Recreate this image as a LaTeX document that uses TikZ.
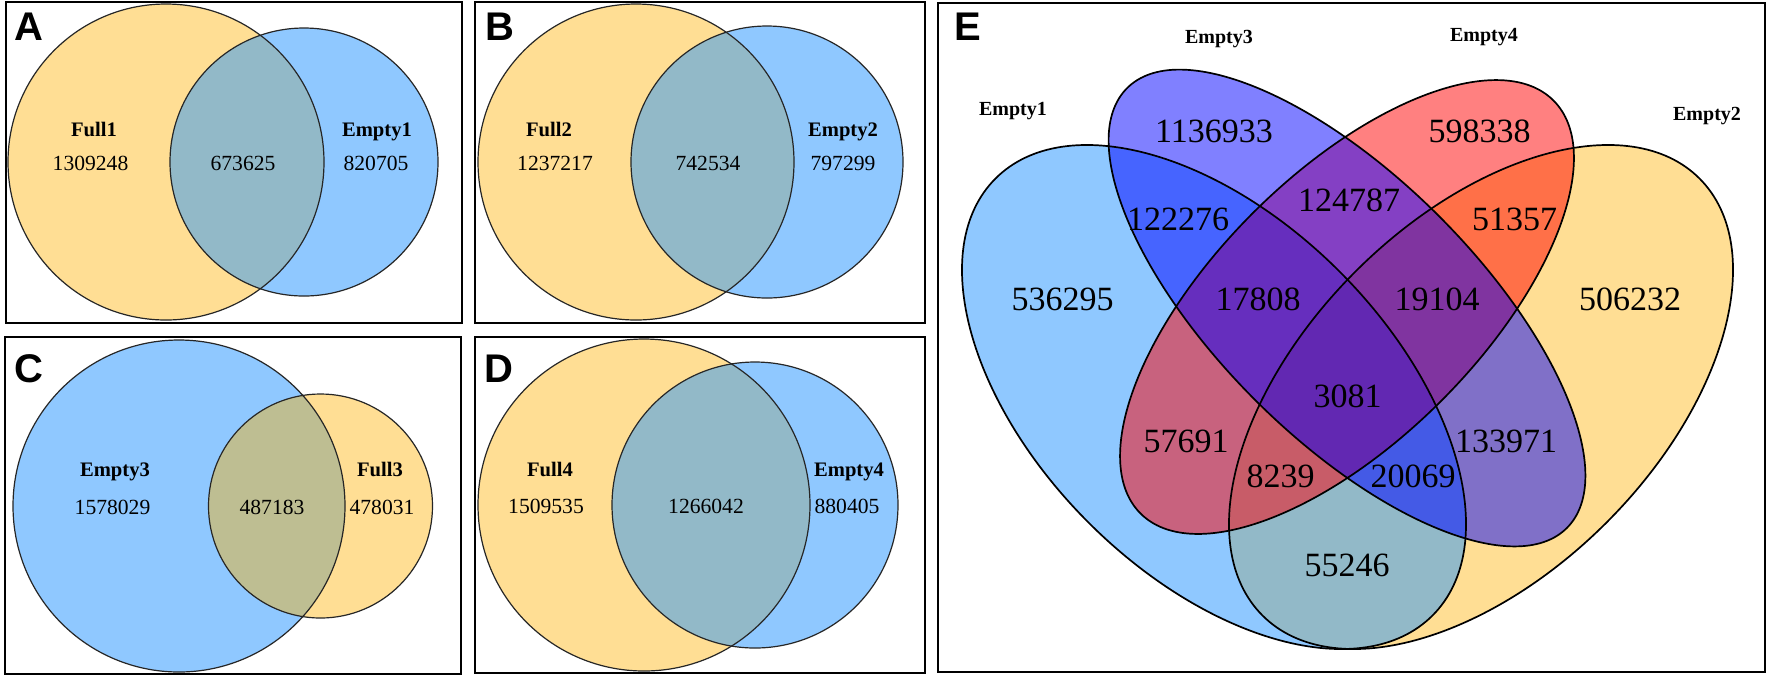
\documentclass[tikz,border=0pt]{standalone}
\usepackage{fontspec}
\setmainfont{Liberation Serif}
\newfontfamily\lsans{Liberation Sans}
\definecolor{vy}{RGB}{255,222,148}
\definecolor{vb}{RGB}{143,200,255}
\definecolor{vyb}{RGB}{146,185,200}
\definecolor{vby}{RGB}{190,190,146}
\definecolor{cA}{RGB}{143,200,255}
\definecolor{cB}{RGB}{255,222,148}
\definecolor{cC}{RGB}{128,128,255}
\definecolor{cD}{RGB}{255,128,128}
\definecolor{cAC}{RGB}{70,100,255}
\definecolor{cCD}{RGB}{132,64,196}
\definecolor{cBD}{RGB}{255,112,72}
\definecolor{cAD}{RGB}{200,98,126}
\definecolor{cBC}{RGB}{128,112,200}
\definecolor{cAB}{RGB}{146,185,200}
\definecolor{cACD}{RGB}{102,46,190}
\definecolor{cBCD}{RGB}{128,52,160}
\definecolor{cABD}{RGB}{200,92,104}
\definecolor{cABC}{RGB}{68,90,230}
\definecolor{cABCD}{RGB}{98,40,178}
\newcommand\EllA[1]{\path[#1,rotate around={-45:(1214,397)}] (1214,397) ellipse [x radius=309,y radius=177.5];}
\newcommand\EllB[1]{\path[#1,rotate around={45:(1481,397)}] (1481,397) ellipse [x radius=309,y radius=177.5];}
\newcommand\EllC[1]{\path[#1,rotate around={-45:(1347,308)}] (1347,308) ellipse [x radius=311,y radius=130];}
\newcommand\EllD[1]{\path[#1,rotate around={45:(1347,307)}] (1347,307) ellipse [x radius=292,y radius=133];}
\begin{document}
\begin{tikzpicture}[x=0.5pt,y=-0.5pt,
  num/.style={font=\fontsize{10.8}{12}\selectfont, anchor=base, inner sep=0pt},
  lab/.style={font=\fontsize{10.3}{12}\selectfont\bfseries, anchor=base, inner sep=0pt},
  enum/.style={font=\fontsize{17}{20}\selectfont, anchor=base, inner sep=0pt},
  elab/.style={font=\fontsize{10}{12}\selectfont\bfseries, anchor=base, inner sep=0pt},
  panel/.style={font=\lsans\bfseries\fontsize{20}{24}\selectfont, anchor=base, inner sep=0pt},
  frame/.style={draw=black, line width=1pt},
  venn/.style={draw=black!85, line width=0.6pt},
  eline/.style={draw=black, line width=0.85pt}]
\useasboundingbox (0,0) rectangle (1772,677);
\fill[white] (0,0) rectangle (1772,677);

% ---------- Panel A ----------
\fill[vy] (166,162) circle[radius=158];
\fill[vb] (304,162) circle[radius=134];
\begin{scope}
  \clip (166,162) circle[radius=158];
  \fill[vyb] (304,162) circle[radius=134];
\end{scope}
\draw[venn] (166,162) circle[radius=158];
\draw[venn] (304,162) circle[radius=134];
\draw[frame] (6,2) rectangle (462,323);
\node[panel] (pA) at (29,40) {A};
\node[lab] (a1) at (94,136) {Full1};
\node[num] (a2) at (90.5,170) {1309248};
\node[num] (a3) at (243,170) {673625};
\node[lab] (a4) at (377,136) {Empty1};
\node[num] (a5) at (376,170) {820705};

% ---------- Panel B ----------
\fill[vy] (636,162) circle[radius=158];
\fill[vb] (767,162) circle[radius=136];
\begin{scope}
  \clip (636,162) circle[radius=158];
  \fill[vyb] (767,162) circle[radius=136];
\end{scope}
\draw[venn] (636,162) circle[radius=158];
\draw[venn] (767,162) circle[radius=136];
\draw[frame] (475,2) rectangle (925,323);
\node[panel] (pB) at (500,40) {B};
\node[lab] (b1) at (549,136) {Full2};
\node[num] (b2) at (555,170) {1237217};
\node[num] (b3) at (708,170) {742534};
\node[lab] (b4) at (843,136) {Empty2};
\node[num] (b5) at (843,170) {797299};

% ---------- Panel C ----------
\fill[vb] (179,506) circle[radius=166];
\fill[vy] (320.5,506) circle[radius=112];
\begin{scope}
  \clip (179,506) circle[radius=166];
  \fill[vby] (320.5,506) circle[radius=112];
\end{scope}
\draw[venn] (179,506) circle[radius=166];
\draw[venn] (320.5,506) circle[radius=112];
\draw[frame] (5,337) rectangle (461,674);
\node[panel] (pC) at (29,382) {C};
\node[lab] (c1) at (115,476) {Empty3};
\node[num] (c2) at (112.5,514) {1578029};
\node[num] (c3) at (272,514) {487183};
\node[lab] (c4) at (380,476) {Full3};
\node[num] (c5) at (382,514) {478031};

% ---------- Panel D ----------
\fill[vy] (644,505) circle[radius=166];
\fill[vb] (755,505) circle[radius=143];
\begin{scope}
  \clip (644,505) circle[radius=166];
  \fill[vyb] (755,505) circle[radius=143];
\end{scope}
\draw[venn] (644,505) circle[radius=166];
\draw[venn] (755,505) circle[radius=143];
\draw[frame] (475,337) rectangle (925,673);
\node[panel] (pD) at (499,382) {D};
\node[lab] (d1) at (550,476) {Full4};
\node[num] (d2) at (546,513) {1509535};
\node[num] (d3) at (706,513) {1266042};
\node[lab] (d4) at (849,476) {Empty4};
\node[num] (d5) at (847,513) {880405};

% ---------- Panel E ----------
\EllA{fill=cA}
\EllB{fill=cB}
\EllC{fill=cC}
\EllD{fill=cD}
% pairs
\begin{scope}\EllA{clip}\EllB{fill=cAB}\end{scope}
\begin{scope}\EllA{clip}\EllC{fill=cAC}\end{scope}
\begin{scope}\EllA{clip}\EllD{fill=cAD}\end{scope}
\begin{scope}\EllB{clip}\EllC{fill=cBC}\end{scope}
\begin{scope}\EllB{clip}\EllD{fill=cBD}\end{scope}
\begin{scope}\EllC{clip}\EllD{fill=cCD}\end{scope}
% triples
\begin{scope}\EllA{clip}\EllB{clip}\EllC{fill=cABC}\end{scope}
\begin{scope}\EllA{clip}\EllB{clip}\EllD{fill=cABD}\end{scope}
\begin{scope}\EllA{clip}\EllC{clip}\EllD{fill=cACD}\end{scope}
\begin{scope}\EllB{clip}\EllC{clip}\EllD{fill=cBCD}\end{scope}
% all four
\begin{scope}\EllA{clip}\EllB{clip}\EllC{clip}\EllD{fill=cABCD}\end{scope}
% outlines
\EllA{eline}
\EllB{eline}
\EllC{eline}
\EllD{eline}
\draw[frame, line width=1.2pt] (938,3) rectangle (1765,672);
\node[panel] (pE) at (968,40.7) {E};
\node[elab] (e1) at (1013,115) {Empty1};
\node[elab] (e3) at (1219,43.3) {Empty3};
\node[elab] (e4) at (1484,41.7) {Empty4};
\node[elab] (e2) at (1707,120.7) {Empty2};
\node[enum] (n1) at (1214,142.7) {1136933};
\node[enum] (n2) at (1479.5,142.7) {598338};
\node[enum] (n3) at (1178,230) {122276};
\node[enum] (n4) at (1349,211.7) {124787};
\node[enum] (n5) at (1514.5,230) {51357};
\node[enum] (n6) at (1062.5,310) {536295};
\node[enum] (n7) at (1258,310) {17808};
\node[enum] (n8) at (1437,310) {19104};
\node[enum] (n9) at (1630,310) {506232};
\node[enum] (n10) at (1347.5,407) {3081};
\node[enum] (n11) at (1186,452) {57691};
\node[enum] (n12) at (1506,452) {133971};
\node[enum] (n13) at (1280.5,487.7) {8239};
\node[enum] (n14) at (1413,487.7) {20069};
\node[enum] (n15) at (1347,576) {55246};
\end{tikzpicture}
\end{document}
